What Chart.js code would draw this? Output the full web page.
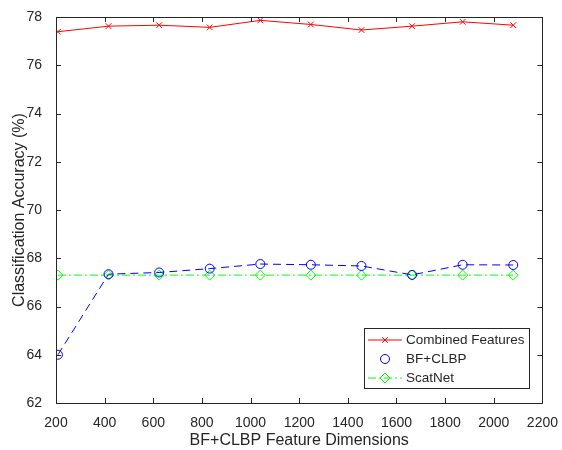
<!DOCTYPE html>
<html>
<head>
<meta charset="utf-8">
<script src="https://cdn.jsdelivr.net/npm/chart.js@4/dist/chart.umd.min.js"></script>
<style>
  html, body { margin: 0; padding: 0; background: #fff; }
  #wrap { width: 562px; height: 450px; }
</style>
</head>
<body>
<div id="wrap"><canvas id="myChart" width="562" height="450"></canvas></div>
<script>
// data
var dims = [208, 416, 624, 832, 1040, 1248, 1456, 1664, 1872, 2080];
var combined = [77.39, 77.62, 77.66, 77.57, 77.86, 77.69, 77.46, 77.62, 77.80, 77.66];
var bfclbp = [64.0, 67.34, 67.41, 67.57, 67.76, 67.73, 67.68, 67.31, 67.73, 67.72];
var scatnet = [67.3, 67.3, 67.3, 67.3, 67.3, 67.3, 67.3, 67.3, 67.3, 67.3];
var xTicks = [200, 400, 600, 800, 1000, 1200, 1400, 1600, 1800, 2000, 2200];
var yTicks = [62, 64, 66, 68, 70, 72, 74, 76, 78];

var FONT = '"Liberation Sans", Arial, sans-serif';
var TXT = '#262626';

function pts(ys) {
  return dims.map(function (d, i) { return { x: d, y: ys[i] }; });
}

// box frame + inward ticks, matlab style
var framePlugin = {
  id: 'frame',
  afterDatasetsDraw: function (chart) {
    var ctx = chart.ctx, a = chart.chartArea;
    var xs = chart.scales.x, ys = chart.scales.y;
    ctx.save();
    ctx.strokeStyle = '#262626';
    ctx.lineWidth = 1;
    ctx.beginPath();
    ctx.rect(Math.round(a.left) + 0.5, Math.round(a.top) + 0.5,
      Math.round(a.right - a.left), Math.round(a.bottom - a.top));
    ctx.stroke();
    ctx.beginPath();
    xTicks.forEach(function (t) {
      var px = Math.round(xs.getPixelForValue(t)) + 0.5;
      ctx.moveTo(px, a.bottom); ctx.lineTo(px, a.bottom - 5);
      ctx.moveTo(px, a.top); ctx.lineTo(px, a.top + 5);
    });
    yTicks.forEach(function (t) {
      var py = Math.round(ys.getPixelForValue(t)) + 0.5;
      ctx.moveTo(a.left, py); ctx.lineTo(a.left + 5, py);
      ctx.moveTo(a.right, py); ctx.lineTo(a.right - 5, py);
    });
    ctx.stroke();
    ctx.restore();
  }
};

// legend box drawn inside the plot, lower right
var legendPlugin = {
  id: 'boxLegend',
  afterDraw: function (chart) {
    var ctx = chart.ctx;
    var bx = 364.5, by = 328.5, bw = 165, bh = 60;
    ctx.save();
    ctx.fillStyle = '#fff';
    ctx.fillRect(bx, by, bw, bh);
    ctx.strokeStyle = '#262626';
    ctx.lineWidth = 1;
    ctx.strokeRect(bx, by, bw, bh);
    ctx.font = '13.5px ' + FONT;
    ctx.textBaseline = 'middle';
    chart.data.datasets.forEach(function (ds, i) {
      var cy = by + 11.5 + i * 19;
      var x0 = 368, x1 = 402, xm = (x0 + x1) / 2;
      ctx.strokeStyle = ds.borderColor;
      ctx.lineWidth = 1;
      if (ds.legendLine) {
        ctx.setLineDash(ds.borderDash || []);
        ctx.beginPath();
        ctx.moveTo(x0, cy); ctx.lineTo(x1, cy);
        ctx.stroke();
        ctx.setLineDash([]);
      }
      ctx.fillStyle = 'rgba(0,0,0,0)';
      Chart.helpers.drawPoint(ctx, {
        pointStyle: ds.pointStyle, radius: ds.pointRadius, rotation: 0,
        borderWidth: 1
      }, xm, cy);
      ctx.fillStyle = TXT;
      ctx.fillText(ds.label, 406, cy);
    });
    ctx.restore();
  }
};

var context = document.getElementById('myChart').getContext('2d');
var myChart = new Chart(context, {
  type: 'line',
  data: {
    datasets: [
      {
        label: 'Combined Features',
        data: pts(combined),
        legendLine: true,
        borderColor: '#ff0000',
        backgroundColor: 'rgba(0,0,0,0)',
        borderWidth: 1,
        pointStyle: 'crossRot',
        pointRadius: 4,
        pointBorderColor: '#ff0000',
        pointBorderWidth: 1
      },
      {
        label: 'BF+CLBP',
        data: pts(bfclbp),
        legendLine: false,
        borderColor: '#0000ff',
        backgroundColor: 'rgba(0,0,0,0)',
        borderWidth: 1,
        borderDash: [8, 5],
        pointStyle: 'circle',
        pointRadius: 4.5,
        pointBorderColor: '#0000ff',
        pointBackgroundColor: 'rgba(0,0,0,0)',
        pointBorderWidth: 1
      },
      {
        label: 'ScatNet',
        data: pts(scatnet),
        legendLine: true,
        borderColor: '#00ff00',
        backgroundColor: 'rgba(0,0,0,0)',
        borderWidth: 1,
        borderDash: [8, 3, 2, 3],
        pointStyle: 'rectRot',
        pointRadius: 5,
        pointBorderColor: '#00ff00',
        pointBackgroundColor: 'rgba(0,0,0,0)',
        pointBorderWidth: 1
      }
    ]
  },
  options: {
    responsive: false,
    animation: false,
    layout: { padding: { top: 17, right: 17, left: 0, bottom: 0 } },
    plugins: {
      legend: { display: false },
      tooltip: { enabled: false }
    },
    scales: {
      x: {
        type: 'linear',
        min: 200, max: 2200,
        afterBuildTicks: function (s) { s.ticks = xTicks.map(function (v) { return { value: v }; }); },
        afterFit: function (s) { s.height = 47; },
        grid: { display: false },
        border: { display: false },
        ticks: {
          color: TXT, font: { family: FONT, size: 14 }, padding: 4, maxRotation: 0,
          callback: function (v) { return String(v); }
        },
        title: { display: true, text: 'BF+CLBP Feature Dimensions', color: TXT, font: { family: FONT, size: 16, lineHeight: 1 }, padding: { top: 6, bottom: 1 } }
      },
      y: {
        min: 62, max: 78,
        afterBuildTicks: function (s) { s.ticks = yTicks.map(function (v) { return { value: v }; }); },
        afterFit: function (s) { s.width = 56; },
        grid: { display: false },
        border: { display: false },
        ticks: { color: TXT, font: { family: FONT, size: 14 }, padding: 6 },
        title: { display: true, text: 'Classification Accuracy (%)', color: TXT, font: { family: FONT, size: 16, lineHeight: 1 }, padding: { top: 12, bottom: 0 } }
      }
    }
  },
  plugins: [framePlugin, legendPlugin]
});
</script>
</body>
</html>
